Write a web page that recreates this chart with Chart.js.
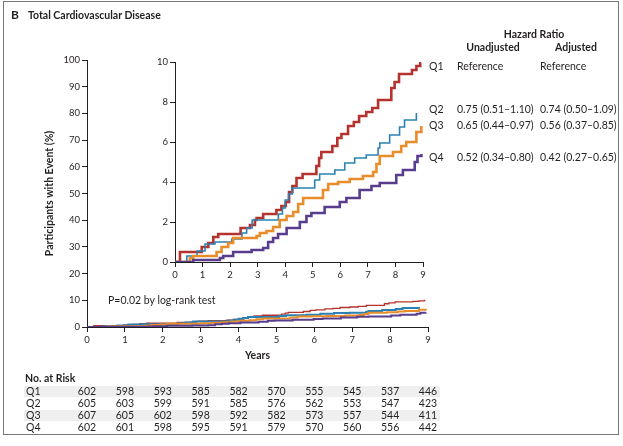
<!DOCTYPE html>
<html>
<head>
<meta charset="utf-8">
<script src="https://cdn.jsdelivr.net/npm/chart.js@4.4.1/dist/chart.umd.min.js"></script>
<style>
body{margin:0;width:623px;height:446px;overflow:hidden;background:#fff;position:relative;font-family:Lato,"Open Sans",sans-serif;color:#231f20}
canvas{position:absolute;left:0;top:0}
.frame{position:absolute;left:3px;top:1px;width:614px;height:432px;border:1px solid #777}
.t{position:absolute;white-space:nowrap;font-size:10.5px;line-height:12px}
.b{font-weight:bold}
.big{font-size:12px}
.band{position:absolute;left:24px;width:416px;height:11px;background:#efefef}
</style>
</head>
<body>
<div class="frame"></div>
<div class="band" style="top:386px"></div>
<div class="band" style="top:410px"></div>
<canvas id="mainChart" width="623" height="446"></canvas>
<canvas id="insetChart" width="623" height="446"></canvas>
<script>
// cumulative incidence (%), step jump times in years
const q1Time=[0,0.18,0.97,1.21,1.39,1.57,2.38,2.72,2.90,2.96,3.20,3.68,3.86,4.02,4.14,4.26,4.41,4.63,5.13,5.23,5.31,5.71,5.89,6.04,6.28,6.49,6.68,6.94,7.16,7.37,7.85,7.97,8.13,8.60,8.76,8.90,8.93]
const q1Pct=[0,0.5,0.75,0.95,1.25,1.4,1.7,1.85,2.1,2.2,2.4,2.6,2.8,3.0,3.5,3.8,4.2,4.4,4.8,5.2,5.5,5.8,6.2,6.4,6.8,7.0,7.3,7.5,7.7,8.1,8.7,9.0,9.4,9.6,9.8,9.95,9.95]
const q2Time=[0,0.43,0.80,1.09,1.45,2.06,2.43,2.60,2.80,3.75,3.90,4.00,4.12,4.25,5.07,5.25,5.80,6.16,6.52,6.94,7.37,7.43,7.79,8.15,8.33,8.76]
const q2Pct=[0,0.3,0.55,0.9,1.0,1.15,1.45,1.7,2.1,2.4,2.7,3.1,3.4,3.7,4.1,4.4,4.6,4.95,5.2,5.35,5.7,5.95,6.35,6.75,7.1,7.45]
const q3Time=[0,0.54,0.66,1.51,1.69,1.93,2.11,2.96,3.08,3.32,3.56,3.80,4.05,4.29,4.47,4.65,5.37,5.56,5.92,6.34,6.82,7.19,7.31,7.43,7.91,8.21,8.39,8.76,8.94]
const q3Pct=[0,0.2,0.3,0.5,0.75,0.95,1.2,1.3,1.45,1.55,1.75,2.1,2.3,2.5,2.9,3.2,3.6,3.9,4.0,4.15,4.3,4.5,4.9,5.3,5.5,5.8,6.0,6.5,6.8]
const q4Time=[0,0.66,1.63,1.75,2.11,2.78,3.20,3.38,3.56,3.74,4.05,4.53,4.77,4.95,5.43,5.98,6.22,6.70,7.13,7.43,8.03,8.27,8.70,8.80,8.94]
const q4Pct=[0,0.1,0.2,0.3,0.5,0.6,0.7,1.0,1.2,1.4,1.7,2.0,2.3,2.45,2.75,3.0,3.2,3.6,3.8,3.95,4.35,4.6,5.0,5.3,5.4]

const groups=['Q1','Q2','Q3','Q4']
const hrUnadjusted=['Reference','0.75 (0.51–1.10)','0.65 (0.44–0.97)','0.52 (0.34–0.80)']
const hrAdjusted=['Reference','0.74 (0.50–1.09)','0.56 (0.37–0.85)','0.42 (0.27–0.65)']

const riskQ1=[602,598,593,585,582,570,555,545,537,446]
const riskQ2=[605,603,599,591,585,576,562,553,547,423]
const riskQ3=[607,605,602,598,592,582,573,557,544,411]
const riskQ4=[602,601,598,595,591,579,570,560,556,442]

const colors=['#b5332e','#2b81b3','#e88d2a','#573d8c']
const ink='#231f20'

function pts(t,v){ return t.map((x,i)=>({x:x,y:v[i]})) }
const series=[pts(q1Time,q1Pct),pts(q2Time,q2Pct),pts(q3Time,q3Pct),pts(q4Time,q4Pct)]

function sets(widths){
    return series.map((d,i)=>({
        data:d,
        borderColor:colors[i],
        borderWidth:widths[i],
        stepped:true,
        pointRadius:0,
        fill:false
    })).reverse()
}

function axis(min,max,step,size,horiz,title){
    return {
        type:'linear',min:min,max:max,
        ticks:{stepSize:step,color:ink,padding:2,font:{family:'Lato',size:9.5}},
        grid:{drawOnChartArea:false,drawTicks:true,tickLength:5,color:ink,lineWidth:1},
        border:{display:true,color:ink,width:1},
        title:title,
        afterFit:function(s){ if(horiz){s.height=size}else{s.width=size} }
    }
}

const common={responsive:false,animation:false,events:[],
    plugins:{legend:{display:false},tooltip:{enabled:false}}}

const mainChart=new Chart(document.getElementById('mainChart'),{
    type:'line',
    data:{datasets:sets([1.3,2,2,2])},
    options:Object.assign({},common,{
        layout:{padding:{left:37,right:195,top:60,bottom:79}},
        scales:{
            x:axis(0,9,1,40,true,{display:true,text:'Years',color:ink,padding:{top:0,bottom:5},font:{family:'Lato',size:10.5,weight:'bold'}}),
            y:axis(0,100,10,50,false,{display:true,text:'Participants with Event (%)',color:ink,padding:{top:6,bottom:0},font:{family:'Lato',size:10.5,weight:'bold'}})
        }
    })
})

new Chart(document.getElementById('insetChart'),{
    type:'line',
    data:{datasets:sets([2.6,1.6,2.6,2.6])},
    options:Object.assign({},common,{
        layout:{padding:{left:145,right:200,top:62,bottom:164}},
        scales:{
            x:axis(0,9,1,20,true,{display:false}),
            y:axis(0,10,2,30,false,{display:false})
        }
    })
})

// text overlays
function put(text,x,y,cls,align){
    const d=document.createElement('div')
    d.className='t '+(cls||'')
    d.textContent=text
    d.style.left=x+'px'
    d.style.top=(y-6)+'px'
    if(align==='center') d.style.transform='translateX(-50%)'
    if(align==='right') d.style.transform='translateX(-100%)'
    document.body.appendChild(d)
}

put('B',11,15,'b big')
put('Total Cardiovascular Disease',28,15,'b')
put('Hazard Ratio',534,34,'b','center')
put('Unadjusted',493,47,'b','center')
put('Adjusted',576,47,'b','center')

const rowY=[66,109,125,157]
groups.forEach((g,i)=>{
    put(g,429,rowY[i])
    put(hrUnadjusted[i],457,rowY[i])
    put(hrAdjusted[i],540,rowY[i])
})

put('P=0.02 by log-rank test',108,300)

put('No. at Risk',25,378,'b')
const risk=[riskQ1,riskQ2,riskQ3,riskQ4]
const tableY=[391,403,415,427]
const xs=mainChart.scales.x
risk.forEach((row,i)=>{
    put(groups[i],26,tableY[i])
    row.forEach((n,k)=>put(String(n),xs.getPixelForValue(k),tableY[i],'','center'))
})
</script>
</body>
</html>
